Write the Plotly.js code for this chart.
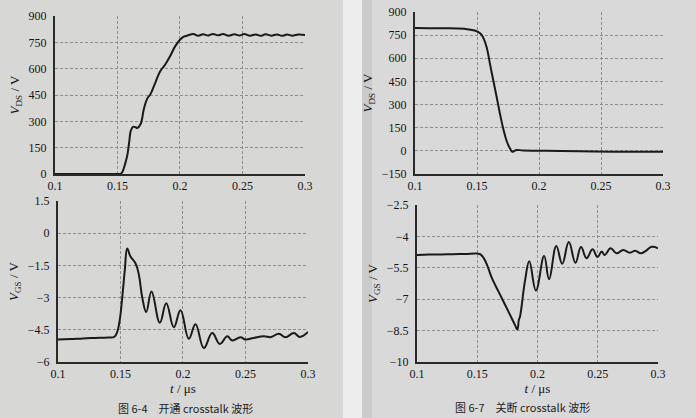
<!DOCTYPE html>
<html>
<head>
<meta charset="utf-8">
<script src="https://cdn.plot.ly/plotly-3.0.1.min.js"></script>
<style>
html,body{margin:0;padding:0;background:#d7d7d5;}
#chart{width:696px;height:418px;}
#chart .xtick text, #chart .ytick text, #chart text[class*="title"] {font-family: "Liberation Serif", serif !important;}
</style>
</head>
<body>
<div id="chart"></div>
<script>
// ---- Data ----
var xTickVals = [0.1, 0.15, 0.2, 0.25, 0.3];
var xTickText = ["0.1", "0.15", "0.2", "0.25", "0.3"];

// Fig 6-4 top: turn-on V_DS
var tOnVds = [0.1, 0.12, 0.14, 0.15, 0.1525, 0.154, 0.156, 0.1579, 0.1595, 0.1606, 0.1624, 0.1645, 0.1658, 0.1685, 0.1711, 0.1737, 0.1764, 0.1803, 0.1843, 0.1882, 0.1921, 0.1961, 0.2, 0.203, 0.2065, 0.2106, 0.2145, 0.2185, 0.2225, 0.2264, 0.2303, 0.2343, 0.239, 0.2435, 0.2475, 0.2514, 0.256, 0.2606, 0.2645, 0.2685, 0.273, 0.2777, 0.2815, 0.2856, 0.29, 0.2948, 0.3];
var vOnVds = [0, 0, 0, 0, 1, 13, 55, 108, 190, 245, 268, 266, 262, 285, 370, 428, 455, 521, 587, 624, 671, 727, 765, 782, 790, 797, 788, 796, 789, 798, 790, 797, 788, 796, 789, 797, 788, 795, 787, 796, 788, 795, 787, 794, 788, 795, 792];

// Fig 6-4 bottom: turn-on V_GS
var tOnVgs = [0.1, 0.11, 0.12, 0.13, 0.14, 0.145, 0.1474, 0.1495, 0.1514, 0.1535, 0.1554, 0.158, 0.162, 0.1647, 0.1674, 0.1706, 0.1748, 0.1815, 0.1866, 0.1927, 0.198, 0.2047, 0.21, 0.2167, 0.2234, 0.2295, 0.2354, 0.2394, 0.246, 0.25, 0.2565, 0.2647, 0.2705, 0.2767, 0.282, 0.2887, 0.2935, 0.3];
var vOnVgs = [-4.95, -4.93, -4.9, -4.88, -4.86, -4.83, -4.6, -4.0, -3.0, -1.7, -0.71, -1.09, -1.4, -1.93, -2.99, -3.67, -2.71, -4.17, -3.26, -4.38, -3.59, -4.92, -4.24, -5.35, -4.65, -5.16, -4.8, -5.0, -4.85, -4.95, -4.88, -4.8, -4.84, -4.68, -4.85, -4.65, -4.83, -4.6];

// Fig 6-7 top: turn-off V_DS
var tOffVds = [0.1, 0.12, 0.14, 0.148, 0.1527, 0.1553, 0.158, 0.1606, 0.1633, 0.166, 0.1686, 0.1713, 0.1739, 0.1766, 0.1785, 0.18, 0.1819, 0.1872, 0.2059, 0.2324, 0.259, 0.3];
var vOffVds = [797, 795, 791, 780, 761, 729, 664, 557, 450, 343, 236, 139, 64, 15, -6, 0, 6, 2, 1, -3, -5, -6];

// Fig 6-7 bottom: turn-off V_GS
var tOffVgs = [0.1, 0.11, 0.12, 0.13, 0.14, 0.15, 0.1527, 0.1555, 0.1582, 0.1623, 0.1678, 0.1732, 0.1787, 0.1814, 0.1833, 0.1845, 0.1856, 0.1897, 0.1932, 0.1987, 0.2055, 0.2096, 0.2156, 0.2205, 0.226, 0.2315, 0.2361, 0.2407, 0.2457, 0.2498, 0.2533, 0.2557, 0.2607, 0.2656, 0.2711, 0.2766, 0.2811, 0.2858, 0.2899, 0.2948, 0.3];
var vOffVgs = [-4.89, -4.87, -4.86, -4.85, -4.84, -4.82, -4.86, -5.05, -5.37, -6.01, -6.65, -7.28, -7.92, -8.24, -8.45, -8.0, -7.8, -6.1, -5.19, -6.58, -4.94, -6.05, -4.46, -5.31, -4.27, -5.26, -4.51, -5.04, -4.62, -4.99, -4.72, -4.89, -4.57, -4.81, -4.65, -4.78, -4.69, -4.81, -4.69, -4.5, -4.57];

var vdsTicks = [0, 150, 300, 450, 600, 750, 900];
var vdsOffTicks = [-150, 0, 150, 300, 450, 600, 750, 900];
var vgsOnTicks = [-6, -4.5, -3, -1.5, 0, 1.5];
var vgsOffTicks = [-10, -8.5, -7, -5.5, -4, -2.5];

var captionLeft = "图 6-4　开通 crosstalk 波形";
var captionRight = "图 6-7　关断 crosstalk 波形";

// ---- Styling ----
var lineStyle = {color: '#1a1a1a', width: 2, shape: 'spline', smoothing: 1.2};
var serif = 'Liberation Serif';
var tickFont = {family: serif, size: 12, color: '#151515'};
var titleFont = {family: serif, size: 13, color: '#151515'};

function xax(domain, anchor, withTitle) {
  var a = {
    domain: domain, anchor: anchor, range: [0.1, 0.3],
    tickmode: 'array', tickvals: xTickVals, ticktext: xTickText,
    showgrid: true, gridcolor: '#8e8e8e', griddash: '3px,2px', gridwidth: 1,
    showline: true, linecolor: '#2a2a2a', linewidth: 2,
    zeroline: false, ticks: '', tickfont: tickFont, automargin: false
  };
  if (withTitle) a.title = {text: '<i>t</i> / μs', font: titleFont, standoff: 4};
  return a;
}
function yax(domain, anchor, range, ticks, title) {
  return {
    domain: domain, anchor: anchor, range: range,
    tickmode: 'array', tickvals: ticks,
    showgrid: true, gridcolor: '#8e8e8e', griddash: '3px,2px', gridwidth: 1,
    showline: true, linecolor: '#2a2a2a', linewidth: 2,
    zeroline: false, ticks: '', tickfont: tickFont, ticklabelstandoff: 4,
    automargin: false,
    title: {text: title, font: titleFont, standoff: 6}
  };
}

var traces = [
  {x: tOnVds, y: vOnVds, xaxis: 'x', yaxis: 'y', mode: 'lines', line: lineStyle, hoverinfo: 'skip'},
  {x: tOnVgs, y: vOnVgs, xaxis: 'x2', yaxis: 'y2', mode: 'lines', line: lineStyle, hoverinfo: 'skip'},
  {x: tOffVds, y: vOffVds, xaxis: 'x3', yaxis: 'y3', mode: 'lines', line: lineStyle, hoverinfo: 'skip'},
  {x: tOffVgs, y: vOffVgs, xaxis: 'x4', yaxis: 'y4', mode: 'lines', line: lineStyle, hoverinfo: 'skip'}
];

var layout = {
  width: 696, height: 418,
  margin: {l: 0, r: 0, t: 0, b: 0},
  paper_bgcolor: '#d7d7d5', plot_bgcolor: 'rgba(0,0,0,0)',
  showlegend: false,
  font: {family: serif},
  xaxis: xax([0.0790, 0.4382], 'y', false),
  yaxis: yax([0.5837, 0.9617], 'x', [0, 900], vdsTicks, '<i>V</i><sub>DS</sub> / V'),
  xaxis2: xax([0.0833, 0.4425], 'y2', true),
  yaxis2: yax([0.1340, 0.5191], 'x2', [-6, 1.5], vgsOnTicks, '<i>V</i><sub>GS</sub> / V'),
  xaxis3: xax([0.5963, 0.9526], 'y3', false),
  yaxis3: yax([0.5837, 0.9713], 'x3', [-150, 900], vdsOffTicks, '<i>V</i><sub>DS</sub> / V'),
  xaxis4: xax([0.5991, 0.9454], 'y4', true),
  yaxis4: yax([0.1340, 0.5096], 'x4', [-10, -2.5], vgsOffTicks, '<i>V</i><sub>GS</sub> / V'),
  shapes: [
    {type: 'rect', xref: 'paper', yref: 'paper', x0: 343/696, x1: 362/696, y0: 0, y1: 1, fillcolor: '#ededed', line: {width: 0}, layer: 'below'},
    {type: 'rect', xref: 'paper', yref: 'paper', x0: 362/696, x1: 1, y0: 0, y1: 1, fillcolor: '#d9d9d9', line: {width: 0}, layer: 'below'},
    {type: 'rect', xref: 'paper', yref: 'paper', x0: 362/696, x1: 372/696, y0: 0, y1: 1, fillcolor: '#cbcbcb', line: {width: 0}, layer: 'below'}
  ],
  annotations: [
    {text: captionLeft, xref: 'paper', yref: 'paper', x: 185/696, y: 1 - 408/418, xanchor: 'center', yanchor: 'middle', showarrow: false, font: {family: 'Noto Sans CJK SC', size: 11, color: '#222'}},
    {text: captionRight, xref: 'paper', yref: 'paper', x: 522/696, y: 1 - 407/418, xanchor: 'center', yanchor: 'middle', showarrow: false, font: {family: 'Noto Sans CJK SC', size: 11, color: '#222'}}
  ]
};

Plotly.newPlot('chart', traces, layout, {staticPlot: true, displayModeBar: false});
</script>
</body>
</html>
